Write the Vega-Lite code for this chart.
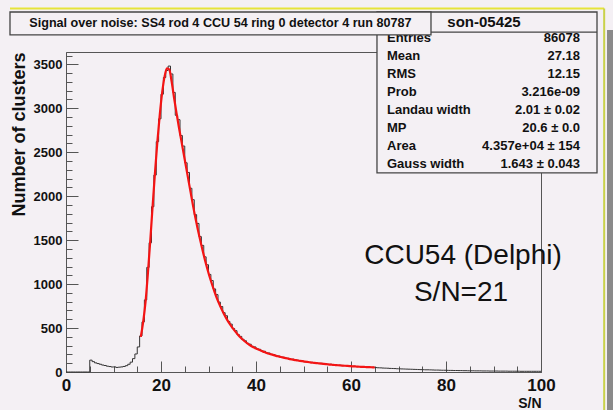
{
  "$schema": "https://vega.github.io/schema/vega-lite/v6.json",
  "width": 475,
  "height": 320,
  "autosize": {"type": "none"},
  "padding": {"left": 66, "top": 52, "right": 72, "bottom": 38},
  "background": "#f4f0f4",
  "config": {
    "view": {"stroke": "#555555", "strokeWidth": 1},
    "font": "Liberation Sans",
    "axis": {"grid": false, "zindex": 1, "labelFlush": false, "labelOverlap": false, "domainColor": "#555555", "tickColor": "#555555", "labelColor": "#111111", "titleColor": "#111111", "labelFont": "Liberation Sans", "titleFont": "Liberation Sans", "labelFontWeight": "bold", "titleFontWeight": "bold"}
  },
  "datasets": {
    "hist": [
      {"s":0,"n":0},{"s":0.5,"n":0},{"s":1,"n":0},{"s":1.5,"n":0},{"s":2,"n":0},{"s":2.5,"n":0},{"s":3,"n":0},{"s":3.5,"n":0},{"s":4,"n":0},{"s":4.5,"n":0},
      {"s":5,"n":135},{"s":5.5,"n":118},{"s":6,"n":104},{"s":6.5,"n":96},{"s":7,"n":88},{"s":7.5,"n":79},{"s":8,"n":74},{"s":8.5,"n":66},{"s":9,"n":62},{"s":9.5,"n":57},
      {"s":10,"n":58},{"s":10.5,"n":52},{"s":11,"n":55},{"s":11.5,"n":58},{"s":12,"n":63},{"s":12.5,"n":72},{"s":13,"n":88},{"s":13.5,"n":112},{"s":14,"n":152},{"s":14.5,"n":205},
      {"s":15,"n":285},{"s":15.5,"n":410},{"s":16,"n":570},{"s":16.5,"n":820},{"s":17,"n":1190},{"s":17.5,"n":1470},{"s":18,"n":1880},{"s":18.5,"n":2240},{"s":19,"n":2620},{"s":19.5,"n":2880},
      {"s":20,"n":3160},{"s":20.5,"n":3350},{"s":21,"n":3430},{"s":21.5,"n":3480},{"s":22,"n":3390},{"s":22.5,"n":3180},{"s":23,"n":2920},{"s":23.5,"n":2870},{"s":24,"n":2690},{"s":24.5,"n":2570},
      {"s":25,"n":2380},{"s":25.5,"n":2270},{"s":26,"n":2090},{"s":26.5,"n":1960},{"s":27,"n":1790},{"s":27.5,"n":1690},{"s":28,"n":1540},{"s":28.5,"n":1440},{"s":29,"n":1310},{"s":29.5,"n":1220},
      {"s":30,"n":1110},{"s":30.5,"n":1040},{"s":31,"n":945},{"s":31.5,"n":880},{"s":32,"n":795},{"s":32.5,"n":745},{"s":33,"n":675},{"s":33.5,"n":640},{"s":34,"n":575},{"s":34.5,"n":545},
      {"s":35,"n":495},{"s":35.5,"n":470},{"s":36,"n":425},{"s":36.5,"n":405},{"s":37,"n":372},{"s":37.5,"n":355},{"s":38,"n":326},{"s":38.5,"n":316},{"s":39,"n":292},{"s":39.5,"n":285},
      {"s":40,"n":264},{"s":40.5,"n":258},{"s":41,"n":240},{"s":41.5,"n":236},{"s":42,"n":218},{"s":42.5,"n":216},{"s":43,"n":200},{"s":43.5,"n":199},{"s":44,"n":185},{"s":44.5,"n":182},
      {"s":45,"n":170},{"s":45.5,"n":168},{"s":46,"n":157},{"s":46.5,"n":156},{"s":47,"n":145},{"s":47.5,"n":146},{"s":48,"n":135},{"s":48.5,"n":135},{"s":49,"n":126},{"s":49.5,"n":126},
      {"s":50,"n":117},{"s":50.5,"n":119},{"s":51,"n":109},{"s":51.5,"n":110},{"s":52,"n":103},{"s":52.5,"n":104},{"s":53,"n":97},{"s":53.5,"n":99},{"s":54,"n":91},{"s":54.5,"n":93},
      {"s":55,"n":85},{"s":55.5,"n":88},{"s":56,"n":80},{"s":56.5,"n":84},{"s":57,"n":76},{"s":57.5,"n":78},{"s":58,"n":72},{"s":58.5,"n":73},{"s":59,"n":69},{"s":59.5,"n":70},
      {"s":60,"n":64},{"s":60.5,"n":66},{"s":61,"n":61},{"s":61.5,"n":63},{"s":62,"n":58},{"s":62.5,"n":60},{"s":63,"n":55},{"s":63.5,"n":57},{"s":64,"n":53},{"s":64.5,"n":54},
      {"s":65,"n":50},{"s":65.5,"n":48},{"s":66,"n":47},{"s":66.5,"n":45},{"s":67,"n":44},{"s":67.5,"n":43},{"s":68,"n":41},{"s":68.5,"n":40},{"s":69,"n":39},{"s":69.5,"n":37},
      {"s":70,"n":36},{"s":70.5,"n":35},{"s":71,"n":34},{"s":71.5,"n":33},{"s":72,"n":32},{"s":72.5,"n":31},{"s":73,"n":30},{"s":73.5,"n":29},{"s":74,"n":28},{"s":74.5,"n":27},
      {"s":75,"n":26},{"s":75.5,"n":25},{"s":76,"n":25},{"s":76.5,"n":24},{"s":77,"n":23},{"s":77.5,"n":22},{"s":78,"n":22},{"s":78.5,"n":21},{"s":79,"n":20},{"s":79.5,"n":20},
      {"s":80,"n":19},{"s":80.5,"n":18},{"s":81,"n":18},{"s":81.5,"n":17},{"s":82,"n":17},{"s":82.5,"n":16},{"s":83,"n":16},{"s":83.5,"n":15},{"s":84,"n":15},{"s":84.5,"n":14},
      {"s":85,"n":14},{"s":85.5,"n":14},{"s":86,"n":13},{"s":86.5,"n":13},{"s":87,"n":13},{"s":87.5,"n":12},{"s":88,"n":12},{"s":88.5,"n":12},{"s":89,"n":11},{"s":89.5,"n":11},
      {"s":90,"n":11},{"s":90.5,"n":11},{"s":91,"n":10},{"s":91.5,"n":10},{"s":92,"n":10},{"s":92.5,"n":10},{"s":93,"n":9},{"s":93.5,"n":9},{"s":94,"n":9},{"s":94.5,"n":9},
      {"s":95,"n":9},{"s":95.5,"n":8},{"s":96,"n":8},{"s":96.5,"n":8},{"s":97,"n":8},{"s":97.5,"n":8},{"s":98,"n":8},{"s":98.5,"n":8},{"s":99,"n":8},{"s":99.5,"n":8},
      {"s":100,"n":8}
    ],
    "fit": [
      {"s":15.75,"n":400},{"s":16.25,"n":570},{"s":16.75,"n":800},{"s":17.25,"n":1130},{"s":17.75,"n":1500},{"s":18.25,"n":1900},{"s":18.75,"n":2280},{"s":19.25,"n":2630},{"s":19.75,"n":2930},
      {"s":20.25,"n":3180},{"s":20.75,"n":3360},{"s":21.25,"n":3455},{"s":21.75,"n":3440},{"s":22.25,"n":3300},{"s":22.75,"n":3120},{"s":23.25,"n":2950},{"s":23.75,"n":2790},{"s":24.25,"n":2640},{"s":24.75,"n":2490},
      {"s":25.25,"n":2340},{"s":25.75,"n":2190},{"s":26.25,"n":2040},{"s":26.75,"n":1890},{"s":27.25,"n":1750},{"s":27.75,"n":1620},{"s":28.25,"n":1500},{"s":28.75,"n":1385},{"s":29.25,"n":1275},{"s":29.75,"n":1175},
      {"s":30.25,"n":1080},{"s":30.75,"n":995},{"s":31.25,"n":915},{"s":31.75,"n":840},{"s":32.25,"n":775},{"s":32.75,"n":715},{"s":33.25,"n":660},{"s":33.75,"n":610},{"s":34.25,"n":565},{"s":34.75,"n":525},
      {"s":35.25,"n":488},{"s":35.75,"n":453},{"s":36.25,"n":422},{"s":36.75,"n":393},{"s":37.25,"n":367},{"s":37.75,"n":344},{"s":38.25,"n":323},{"s":38.75,"n":304},{"s":39.25,"n":288},{"s":39.75,"n":274},
      {"s":40.25,"n":261},{"s":40.75,"n":249},{"s":41.25,"n":238},{"s":41.75,"n":227},{"s":42.25,"n":217},{"s":42.75,"n":208},{"s":43.25,"n":200},{"s":43.75,"n":192},{"s":44.25,"n":184},{"s":44.75,"n":177},
      {"s":45.25,"n":170},{"s":45.75,"n":164},{"s":46.25,"n":158},{"s":46.75,"n":152},{"s":47.25,"n":146},{"s":47.75,"n":141},{"s":48.25,"n":136},{"s":48.75,"n":131},{"s":49.25,"n":127},{"s":49.75,"n":123},
      {"s":50.25,"n":119},{"s":50.75,"n":115},{"s":51.25,"n":111},{"s":51.75,"n":107},{"s":52.25,"n":104},{"s":52.75,"n":101},{"s":53.25,"n":98},{"s":53.75,"n":95},{"s":54.25,"n":92},{"s":54.75,"n":89},
      {"s":55.25,"n":86},{"s":55.75,"n":84},{"s":56.25,"n":81},{"s":56.75,"n":79},{"s":57.25,"n":77},{"s":57.75,"n":75},{"s":58.25,"n":73},{"s":58.75,"n":71},{"s":59.25,"n":69},{"s":59.75,"n":67},
      {"s":60.25,"n":65},{"s":60.75,"n":64},{"s":61.25,"n":62},{"s":61.75,"n":60},{"s":62.25,"n":59},{"s":62.75,"n":58},{"s":63.25,"n":56},{"s":63.75,"n":55},{"s":64.25,"n":54},{"s":64.75,"n":52},{"s":65,"n":51}
    ]
  },
  "layer": [
    {
      "data": {"name": "hist"},
      "mark": {"type": "line", "interpolate": "step-after", "color": "#333333", "strokeWidth": 1},
      "encoding": {
        "x": {"field": "s", "type": "quantitative", "scale": {"domain": [0, 100], "nice": false, "zero": false},
          "axis": {"orient": "bottom", "values": [0, 20, 40, 60, 80, 100], "format": "d", "tickSize": -11, "labelPadding": 16, "labelFontSize": 17, "title": "S/N", "titleFontSize": 14, "titleAnchor": "end", "titlePadding": 3}},
        "y": {"field": "n", "type": "quantitative", "scale": {"domain": [0, 3640], "nice": false},
          "axis": {"orient": "left", "values": [0, 500, 1000, 1500, 2000, 2500, 3000, 3500], "format": "d", "tickSize": -12, "labelPadding": 16, "labelFontSize": 13, "title": "Number of clusters", "titleFontSize": 18, "titleAnchor": "end", "titlePadding": 5}}
      }
    },
    {
      "data": {"name": "fit"},
      "mark": {"type": "line", "interpolate": "monotone", "color": "#f41414", "strokeWidth": 2.2},
      "encoding": {
        "x": {"field": "s", "type": "quantitative",
          "axis": {"orient": "bottom", "values": [5, 10, 15, 25, 30, 35, 45, 50, 55, 65, 70, 75, 85, 90, 95], "tickSize": -6, "labels": false, "domain": false, "title": null}},
        "y": {"field": "n", "type": "quantitative",
          "axis": {"orient": "left", "values": [100, 200, 300, 400, 600, 700, 800, 900, 1100, 1200, 1300, 1400, 1600, 1700, 1800, 1900, 2100, 2200, 2300, 2400, 2600, 2700, 2800, 2900, 3100, 3200, 3300, 3400, 3600], "tickSize": -6, "labels": false, "domain": false, "title": null}}
      }
    },
    {
      "data": {"values": [{}]},
      "mark": {"type": "rule", "stroke": "#e6e43a", "strokeWidth": 2},
      "encoding": {
        "x": {"datum": -11.79, "axis": null}, "x2": {"datum": 113.3},
        "y": {"datum": 4135, "axis": null}
      }
    },
    {
      "data": {"values": [{}]},
      "mark": {"type": "rule", "stroke": "#c9d24a", "strokeWidth": 2},
      "encoding": {
        "x": {"datum": 113.3, "axis": null},
        "y": {"datum": 4135, "axis": null}, "y2": {"datum": -500}
      }
    },
    {
      "data": {"values": [{}]},
      "mark": {"type": "rect", "fill": "#f4f0f4", "stroke": "#444444", "strokeWidth": 1.3},
      "encoding": {
        "x": {"datum": 65.47, "axis": null}, "x2": {"datum": 111.79},
        "y": {"datum": 4095, "axis": null}, "y2": {"datum": 2264}
      }
    },
    {
      "data": {"values": [{}]},
      "mark": {"type": "rule", "stroke": "#444444", "strokeWidth": 1.3},
      "encoding": {
        "x": {"datum": 65.47, "axis": null}, "x2": {"datum": 111.79},
        "y": {"datum": 3867, "axis": null}
      }
    },
    {
      "data": {"values": [{}]},
      "mark": {"type": "text", "text": "son-05425", "font": "Liberation Sans", "fontWeight": "bold", "fontSize": 15, "align": "center", "baseline": "middle", "color": "#111111"},
      "encoding": {"x": {"datum": 88.0, "axis": null}, "y": {"datum": 3982, "axis": null}}
    },
    {
      "data": {"values": [{}]},
      "mark": {"type": "text", "text": "Entries\nMean\nRMS\nProb\nLandau width\nMP\nArea\nGauss width", "lineBreak": "\n", "lineHeight": 18, "font": "Liberation Sans", "fontWeight": "bold", "fontSize": 13, "align": "left", "baseline": "top", "color": "#111111"},
      "encoding": {"x": {"datum": 67.58, "axis": null}, "y": {"datum": 3867, "axis": null}}
    },
    {
      "data": {"values": [{}]},
      "mark": {"type": "text", "text": "86078\n27.18\n12.15\n3.216e-09\n2.01 ± 0.02\n20.6 ± 0.0\n4.357e+04 ± 154\n1.643 ± 0.043", "lineBreak": "\n", "lineHeight": 18, "font": "Liberation Sans", "fontWeight": "bold", "fontSize": 13, "align": "right", "baseline": "top", "color": "#111111"},
      "encoding": {"x": {"datum": 108.2, "axis": null}, "y": {"datum": 3867, "axis": null}}
    },
    {
      "data": {"values": [{}]},
      "mark": {"type": "rect", "fill": "#f4f0f4", "stroke": "#444444", "strokeWidth": 1.3},
      "encoding": {
        "x": {"datum": -11.79, "axis": null}, "x2": {"datum": 76.84},
        "y": {"datum": 4095, "axis": null}, "y2": {"datum": 3834}
      }
    },
    {
      "data": {"values": [{}]},
      "mark": {"type": "text", "text": "Signal over noise: SS4 rod 4 CCU 54 ring 0 detector 4 run 80787", "font": "Liberation Sans", "fontWeight": "bold", "fontSize": 12.6, "align": "center", "baseline": "middle", "color": "#111111"},
      "encoding": {"x": {"datum": 32.5, "axis": null}, "y": {"datum": 3965, "axis": null}}
    },
    {
      "data": {"values": [{}]},
      "mark": {"type": "text", "text": "CCU54 (Delphi)", "font": "Liberation Sans", "fontSize": 28, "align": "center", "baseline": "middle", "color": "#111111"},
      "encoding": {"x": {"datum": 83.58, "axis": null}, "y": {"datum": 1319, "axis": null}}
    },
    {
      "data": {"values": [{}]},
      "mark": {"type": "text", "text": "S/N=21", "font": "Liberation Sans", "fontSize": 28, "align": "center", "baseline": "middle", "color": "#111111"},
      "encoding": {"x": {"datum": 83.16, "axis": null}, "y": {"datum": 899, "axis": null}}
    },
    {
      "data": {"values": [{}]},
      "mark": {"type": "rect", "fill": "#8a8a8a"},
      "encoding": {
        "x": {"datum": 113.9, "axis": null}, "x2": {"datum": 116},
        "y": {"datum": 3890, "axis": null}, "y2": {"datum": -500}
      }
    }
  ],
  "resolve": {"axis": {"x": "independent", "y": "independent"}}
}
